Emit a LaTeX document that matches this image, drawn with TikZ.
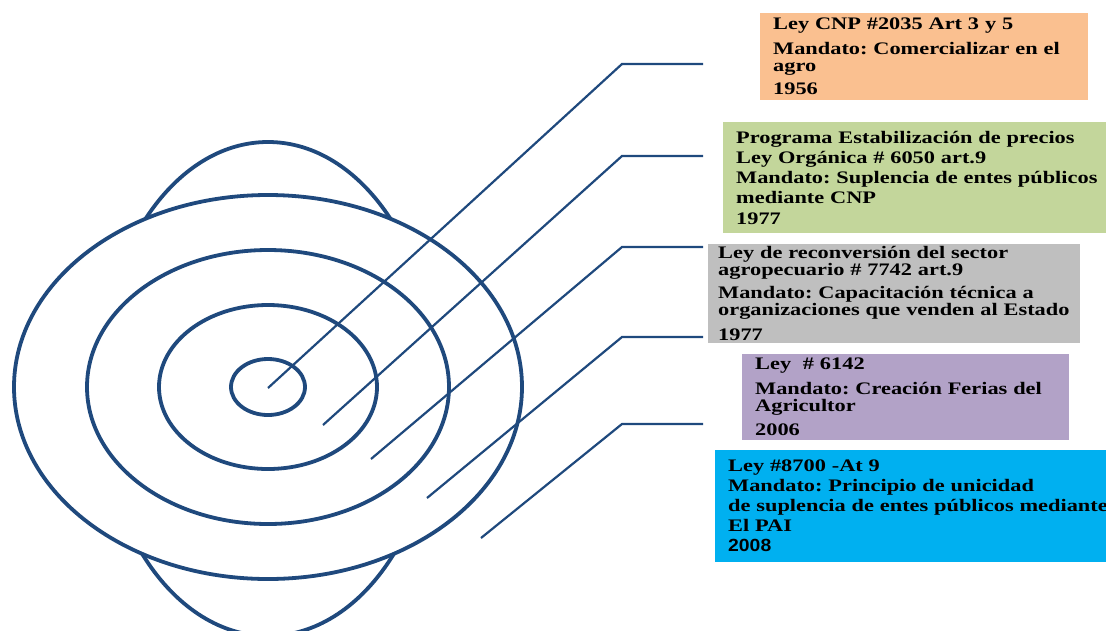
\documentclass[tikz,border=0pt]{standalone}
\usepackage{fontspec}
\setmainfont{Liberation Serif}[FakeStretch=1.27]
\setsansfont{Liberation Sans}[FakeStretch=1.1]
\usetikzlibrary{positioning}
\frenchspacing

\definecolor{ringblue}{HTML}{1F497D}
\definecolor{cnporange}{HTML}{FAC090}
\definecolor{preciogreen}{HTML}{C3D69B}
\definecolor{sectorgray}{HTML}{BFBFBF}
\definecolor{feriapurple}{HTML}{B2A2C7}
\definecolor{paicyan}{HTML}{00B0F0}

\begin{document}
\begin{tikzpicture}[x=1pt, y=-1pt,
    ring/.style={draw=ringblue, line width=3.8pt},
    lead/.style={draw=ringblue, line width=2.2pt},
    law/.style={anchor=north west, inner xsep=13pt, inner ysep=0pt, align=left,
                font={\fontsize{17.6}{17}\selectfont\bfseries}}]

    \useasboundingbox (0,0) rectangle (1106,630);

    % target
    \coordinate (mid) at (268,387);
    \draw[ring] (268,389) ellipse [x radius=169pt, y radius=247pt];
    \draw[ring, fill=white] (mid) ellipse [x radius=254pt, y radius=192pt];
    \draw[ring] (mid) ellipse [x radius=181pt, y radius=137pt];
    \draw[ring] (mid) ellipse [x radius=109pt, y radius=82pt];
    \draw[ring] (mid) ellipse [x radius=37pt, y radius=28pt];

    % law boxes
    \node[law, fill=cnporange, text width=302pt, minimum height=87pt] (cnp) at (760,13)
        {Ley CNP \#2035 Art 3 y 5\\[8pt]Mandato: Comercializar en el\\agro\\[6pt]1956};
    \node[law, fill=preciogreen, text width=374pt, minimum height=111pt] (precios) at (723,122)
        {Programa Estabilización de precios\\[3pt]Ley Orgánica \# 6050 art.9\\[3pt]Mandato: Suplencia de entes públicos\\[3pt]mediante CNP\\[4pt]1977};
    \node[law, fill=sectorgray, inner xsep=10pt, text width=352pt, minimum height=99pt] (sector) at (708,244)
        {Ley de reconversión del sector\\agropecuario \# 7742 art.9\\[6pt]Mandato: Capacitación técnica a\\organizaciones que venden al Estado\\[8pt]1977};
    \node[law, fill=feriapurple, text width=301pt, minimum height=86pt] (ferias) at (742,354)
        {Ley \ \# 6142\\[8pt]Mandato: Creación Ferias del\\Agricultor\\[7pt]2006};
    \node[law, fill=paicyan, text width=394pt, minimum height=112pt] (pai) at (715,450)
        {Ley \#8700 -At 9\\[3pt]Mandato: Principio de unicidad\\[3pt]de suplencia de entes públicos mediante\\[3pt]El PAI\\[3pt]{\sffamily 2008}};

    % leader lines
    \coordinate (k1) at (703,64);
    \coordinate (k2) at (703,156);
    \coordinate (k3) at (703,247);
    \coordinate (k4) at (703,337);
    \coordinate (k5) at (703,424);
    \coordinate (t1) at (268,388);
    \coordinate (t2) at (323,425);
    \coordinate (t3) at (371,459);
    \coordinate (t4) at (427,498);
    \coordinate (t5) at (481,538);

    \draw[lead] (k1) -- ++(-81,0) -- (t1);
    \draw[lead] (k2) -- ++(-81,0) -- (t2);
    \draw[lead] (k3) -- ++(-81,0) -- (t3);
    \draw[lead] (k4) -- ++(-81,0) -- (t4);
    \draw[lead] (k5) -- ++(-81,0) -- (t5);
\end{tikzpicture}
\end{document}
